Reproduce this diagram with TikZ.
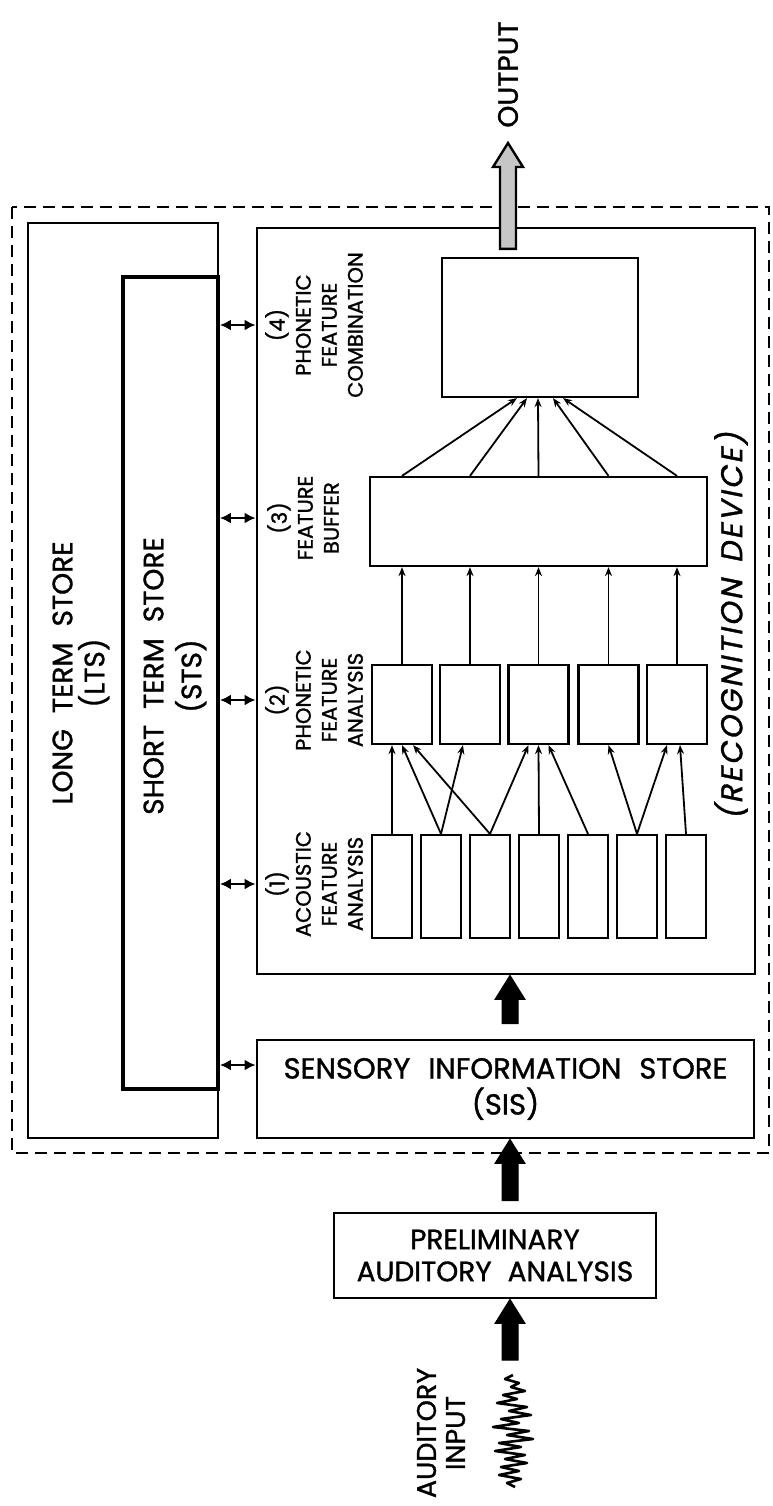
\documentclass[tikz,border=0pt]{standalone}
\usepackage{fontspec}
\setmainfont[FakeBold=1.2]{Poppins}
\newfontfamily\recfont[FakeSlant=0.2,FakeBold=1.2,LetterSpace=8]{Poppins}
\usetikzlibrary{arrows.meta,calc}
\newcommand\blockarrow[3]{%
  \draw[#1] ($(#2)+(-8,0)$) -- ($(#3)+(-8,24)$) -- ($(#3)+(-15,24)$) -- (#3)
    -- ($(#3)+(15,24)$) -- ($(#3)+(8,24)$) -- ($(#2)+(8,0)$) -- cycle;}
\begin{document}
\begin{tikzpicture}[x=0.5pt,y=-0.5pt,
  box/.style={draw, line width=1.1pt, inner sep=0pt, anchor=center},
  mainbox/.style={box, line width=1.4pt},
  lbl/.style={rotate=90, align=center, font=\fontsize{10.5}{13}\selectfont, inner sep=0pt},
  bigtxt/.style={align=center, inner sep=0pt},
  conn/.style={line width=0.9pt, -{Stealth[length=4.5pt,width=3.5pt]}},
  dbl/.style={line width=1.3pt, {Latex[length=5.5pt,width=5.5pt]}-{Latex[length=5.5pt,width=5.5pt]}},
  dashedbox/.style={dash pattern=on 6pt off 3.5pt, line width=1.3pt}
]
\useasboundingbox (0,0) rectangle (772,1506);

% enclosing dashed frame
\draw[dashedbox] (12,207) rectangle (769,1153);

% memory stores
\node[mainbox, minimum width=95pt, minimum height=457.5pt] (lts) at (123,680.5) {};
\node[box, line width=1.9pt, minimum width=47.5pt, minimum height=406pt] (sts) at (170.5,683) {};
\node[rotate=90, bigtxt, font=\fontsize{14}{16}\selectfont] (ltsl) at (81,673)
  {LONG\hspace{8pt}TERM\hspace{8pt}STORE\\(LTS)};
\node[rotate=90, bigtxt, font=\fontsize{14}{19}\selectfont] (stsl) at (175,676)
  {SHORT\hspace{8pt}TERM\hspace{8pt}STORE\\(STS)};

% recognition device
\node[mainbox, minimum width=249pt, minimum height=373pt] (rec) at (506,601) {};
\node[rotate=90, inner sep=0pt, font=\recfont\fontsize{15}{18}\selectfont] (recl) at (731,626)
  {(RECOGNITION\hspace{8pt}DEVICE)};

\node[box, minimum width=98pt, minimum height=69.5pt] (pfc) at (540,327.5) {};
\node[box, minimum width=168.5pt, minimum height=44.5pt] (fb) at (538.5,521.5) {};
\foreach \i/\x in {1/402,2/470,3/538.5,4/608.5,5/677}
  \node[box, minimum width=30pt, minimum height=39.5pt] (pfa\i) at (\x,704.5) {};
\foreach \i/\x in {1/392,2/441,3/490,4/539,5/588,6/637,7/686}
  \node[box, minimum width=20pt, minimum height=51.5pt] (afa\i) at (\x,886.5) {};

\node[lbl] (l4) at (314,325) {(4)\\PHONETIC\\FEATURE\\COMBINATION};
\node[lbl] (l3) at (303,518) {(3)\\FEATURE\\BUFFER};
\node[lbl] (l2) at (314,700) {(2)\\PHONETIC\\FEATURE\\ANALYSIS};
\node[lbl] (l1) at (314,884) {(1)\\ACOUSTIC\\FEATURE\\ANALYSIS};

% sensory information store and preliminary analysis
\node[mainbox, bigtxt, minimum width=248.5pt, minimum height=49pt,
  font=\fontsize{14.5}{18}\selectfont] (sis) at (505.5,1089)
  {SENSORY\hspace{9pt}INFORMATION\hspace{9pt}STORE\\(SIS)};
\node[mainbox, bigtxt, minimum width=161pt, minimum height=42.5pt,
  font=\fontsize{14}{16}\selectfont] (prelim) at (495,1255.5)
  {PRELIMINARY\\AUDITORY\hspace{8pt}ANALYSIS};

% output and input labels
\node[rotate=90, anchor=west, inner sep=0pt, font=\fontsize{14}{16}\selectfont] (out) at (508,128) {OUTPUT};
\node[rotate=90, bigtxt, font=\fontsize{13.5}{14.5}\selectfont] (inl) at (441,1433) {AUDITORY\\INPUT};

% waveform
\draw[line width=1.3pt, line join=round] plot coordinates {
 (513,1375) (505,1379) (519,1383) (511,1387) (525,1391) (503,1395) (517,1399)
 (497,1403) (527,1407) (509,1411) (531,1415) (501,1419) (519,1423) (493,1427)
 (529,1431) (507,1435) (533,1439) (499,1443) (521,1447) (495,1451) (525,1455)
 (505,1459) (527,1463) (501,1467) (519,1471) (499,1475) (521,1479) (507,1483) (515,1487)};
\coordinate (wavetop) at (510,1360);

% connections: acoustic -> phonetic analysis
\draw[conn] (afa1.north) -- ([xshift=-5pt]pfa1.south);
\draw[conn] (afa2.north) -- (pfa1.south);
\draw[conn] (afa3.north) -- ([xshift=5.5pt]pfa1.south);
\draw[conn] (afa2.north) -- ([xshift=-3.5pt]pfa2.south);
\draw[conn] (afa3.north) -- ([xshift=-5pt]pfa3.south);
\draw[conn] (afa4.north) -- (pfa3.south);
\draw[conn] (afa5.north) -- ([xshift=5pt]pfa3.south);
\draw[conn] (afa6.north) -- (pfa4.south);
\draw[conn] (afa6.north) -- ([xshift=-5pt]pfa5.south);
\draw[conn] (afa7.north) -- ([xshift=1.5pt]pfa5.south);
% phonetic analysis -> buffer
\foreach \i in {1,...,5} \draw[conn] (pfa\i.north) -- (pfa\i.north |- fb.south);
% buffer -> combination
\foreach \i/\d in {1/-11.5,2/-6.5,3/-1,4/6.5,5/11.5}
  \draw[conn] (fb.north -| pfa\i) -- ([xshift=\d pt]pfc.south);

% links to short term store
\foreach \l in {l4,l3,l2,l1}
  \draw[dbl] (sts.east |- \l) -- (rec.west |- \l);
\coordinate (sisy) at ($(sis.west)+(0,-24)$);
\draw[dbl] (sts.east |- sisy) -- (sisy);

% block arrows
\coordinate (a1t) at (prelim.south -| wavetop);
\coordinate (a2b) at ($(prelim.north -| wavetop)+(0,-11)$);
\coordinate (a2t) at (sis.south -| wavetop);
\coordinate (a3b) at ($(sis.north -| wavetop)+(0,-15)$);
\coordinate (a3t) at (rec.south -| wavetop);
\coordinate (oa) at ($(pfc.north -| out.west)+(0,-8)$);
\coordinate (ob) at ($(out.west)+(0,15)$);
\blockarrow{fill=black, draw=black, line width=0.5pt}{wavetop}{a1t}
\blockarrow{fill=black, draw=black, line width=0.5pt}{a2b}{a2t}
\blockarrow{fill=black, draw=black, line width=0.5pt}{a3b}{a3t}
\blockarrow{fill=gray!45, draw=black, line width=1.2pt}{oa}{ob}
\end{tikzpicture}
\end{document}
